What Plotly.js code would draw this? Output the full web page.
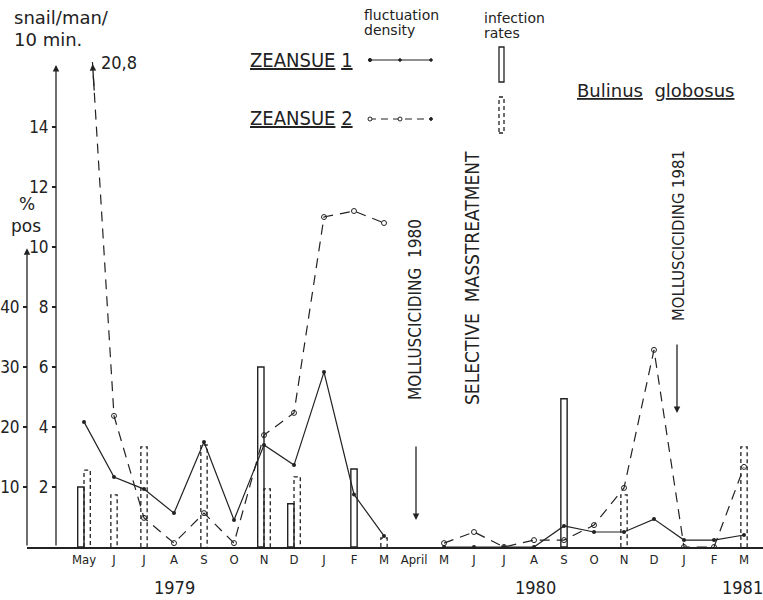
<!DOCTYPE html>
<html>
<head>
<meta charset="utf-8">
<script src="https://cdn.plot.ly/plotly-3.0.1.min.js"></script>
<style>html,body{margin:0;padding:0;background:#fff;}#chart{width:763px;height:600px;}</style>
</head>
<body>
<div id="chart"></div>
<script>
// ---- data ----
const months = ['May','J','J','A','S','O','N','D','J','F','M','April','M','J','J','A','S','O','N','D','J','F','M'];
const monthIndex = months.map((m, i) => i);
// fluctuation density, snail/man/10 min.
const zeansue1Density = [4.17, 2.33, 1.93, 1.13, 3.5, 0.9, 3.4, 2.73, 5.83, 1.75, 0.37, null, 0, 0, 0, 0, 0.7, 0.5, 0.5, 0.93, 0.23, 0.23, 0.4];
const zeansue2Density = [20.8, 4.37, 0.97, 0.13, 1.13, 0.13, 3.73, 4.47, 11.0, 11.2, 10.8, null, 0.13, 0.5, 0, 0.23, 0.23, 0.73, 1.97, 6.57, 0, 0, 2.67];
// infection rates, % pos
const zeansue1Infection = [10, null, null, null, null, null, 30, 7.2, null, 13, null, null, null, null, null, null, 24.7, null, null, null, null, null, null];
const zeansue2Infection = [12.8, 8.7, 16.7, null, 17, null, 9.7, 11.7, null, null, 1.5, null, null, null, null, null, null, null, 8.7, null, null, null, 16.7];
const snailTicks = [2, 4, 6, 8, 10, 12, 14];
const posTicks = [10, 20, 30, 40];
const years = ['1979', '1980', '1981'];

// ---- geometry ----
const W = 763, H = 600;
const M = {l: 27, r: 0, t: 62, b: 53};
const pw = W - M.l - M.r, ph = H - M.t - M.b;
const xRange = [-1.9, 22.633];
const yTop = ph / 30;            // snail axis top
const yRange = [0, yTop];
const y2Range = [0, yTop * 5];   // % pos axis (5 % per snail unit)
const px = x => (x - M.l) / pw;
const py = y => (H - M.b - y) / ph;
const ink = '#222';
const CF = 'DejaVu Sans Condensed, Liberation Sans Narrow, sans-serif';
const RF = 'DejaVu Sans, sans-serif';

// bar placement
const bw = 0.21;
const off1 = [], off2 = [];
months.forEach((m, i) => {
  const both = zeansue1Infection[i] != null && zeansue2Infection[i] != null;
  off1.push(both ? -bw : -bw / 2);
  off2.push(both ? 0 : -bw / 2);
});
// dashed bar outlines as paths
const dbx = [], dby = [];
zeansue2Infection.forEach((v, i) => {
  if (v == null) return;
  const x0 = i + off2[i], x1 = x0 + bw;
  dbx.push(x0, x0, x1, x1, null);
  dby.push(0, v, v, 0, null);
});

const traces = [
  {type: 'scatter', mode: 'lines+markers', x: monthIndex, y: zeansue1Density, yaxis: 'y',
   line: {color: ink, width: 1.2}, marker: {color: ink, size: 4}, connectgaps: false, hoverinfo: 'skip'},
  {type: 'scatter', mode: 'lines+markers', x: monthIndex, y: zeansue2Density, yaxis: 'y',
   line: {color: ink, width: 1.2, dash: '10px,7px'}, marker: {color: ink, size: 5, symbol: 'circle-open', line: {width: 1}},
   connectgaps: false, hoverinfo: 'skip'},
  {type: 'bar', x: monthIndex, y: zeansue1Infection, yaxis: 'y2', width: bw, offset: off1,
   marker: {color: 'rgba(0,0,0,0)', line: {color: ink, width: 1.4}}, hoverinfo: 'skip'},
  {type: 'scatter', mode: 'lines', x: dbx, y: dby, yaxis: 'y2',
   line: {color: ink, width: 1.3, dash: '4px,3px'}, hoverinfo: 'skip'}
];

// arrow at the top of the clipped ZEANSUE 2 line
const v0 = zeansue2Density[0], v1 = zeansue2Density[1];
const tipY = yTop - 0.07, tailY = yTop - 1.0;
const tipX = (v0 - tipY) / (v0 - v1), tailX = (v0 - tailY) / (v0 - v1);
const innerAxisX = (56 - 84) / 30;

const ann = [];
function T(text, x, y, size, opts) {
  ann.push(Object.assign({text: text, xref: 'paper', yref: 'paper', x: px(x), y: py(y), showarrow: false,
    xanchor: 'left', yanchor: 'middle', font: {family: CF, size: size, color: ink}}, opts || {}));
}
// axis arrows
ann.push({xref: 'x', yref: 'y', x: innerAxisX, y: 16.07, axref: 'x', ayref: 'y', ax: innerAxisX, ay: 0,
  text: '', showarrow: true, arrowhead: 2, arrowsize: 1, arrowwidth: 1.3, arrowcolor: ink, standoff: 0, startstandoff: 0});
ann.push({xref: 'x', yref: 'y2', x: xRange[0], y: 49.8, axref: 'x', ayref: 'y2', ax: xRange[0], ay: 0,
  text: '', showarrow: true, arrowhead: 2, arrowsize: 1, arrowwidth: 1.3, arrowcolor: ink, standoff: 0, startstandoff: 0});
ann.push({xref: 'x', yref: 'y', x: tipX, y: tipY, axref: 'x', ayref: 'y', ax: tailX, ay: tailY,
  text: '', showarrow: true, arrowhead: 2, arrowsize: 1, arrowwidth: 1.3, arrowcolor: ink, standoff: 0, startstandoff: 0});
// texts
T('snail/man/', 12, 17, 18, {font: {family: RF, size: 18, color: ink}});
T('10 min.', 12, 40, 18, {font: {family: RF, size: 18, color: ink}});
T('%', 27, 204, 17, {xanchor: 'center', font: {family: RF, size: 17, color: ink}});
T('pos', 26, 226, 17, {xanchor: 'center', font: {family: RF, size: 17, color: ink}});
T('20,8', 99, 62, 18);
T('fluctuation', 362, 15, 14, {font: {family: RF, size: 14, color: ink}});
T('density', 362, 30, 14, {font: {family: RF, size: 14, color: ink}});
T('infection', 482, 18, 14, {font: {family: RF, size: 14, color: ink}});
T('rates', 482, 33, 14, {font: {family: RF, size: 14, color: ink}});
T('<u>ZEANSUE</u> <u>1</u>', 248, 60, 20);
T('<u>ZEANSUE</u> <u>2</u>', 248, 118, 20);
T('<u>Bulinus</u>  g<u>lobosus</u>', 655, 90, 18, {xanchor: 'center', font: {family: RF, size: 18, color: ink}});
T('MOLLUSCICIDING  1980', 415, 310, 17, {xanchor: 'center', textangle: -90});
T('SELECTIVE  MASSTREATMENT', 472, 278, 19, {xanchor: 'center', textangle: -90});
T('MOLLUSCICIDING 1981', 679, 236, 16.5, {xanchor: 'center', textangle: -90});
T(years[0], 174, 587, 18, {xanchor: 'center'});
T(years[1], 535, 587, 18, {xanchor: 'center'});
T(years[2], 742, 587, 18, {xanchor: 'center'});
// treatment arrows
ann.push({xref: 'paper', yref: 'paper', x: px(416), y: py(520), ax: 0, ay: -75, text: '', showarrow: true,
  arrowhead: 2, arrowsize: 1, arrowwidth: 1.3, arrowcolor: ink, standoff: 0});
ann.push({xref: 'paper', yref: 'paper', x: px(677), y: py(413), ax: 0, ay: -70, text: '', showarrow: true,
  arrowhead: 2, arrowsize: 1, arrowwidth: 1.3, arrowcolor: ink, standoff: 0});

// legend samples
const shapes = [];
function L(x0, y0, x1, y1, dash) {
  shapes.push({type: 'line', xref: 'paper', yref: 'paper', x0: px(x0), y0: py(y0), x1: px(x1), y1: py(y1),
    line: {color: ink, width: 1.2, dash: dash || 'solid'}});
}
function C(x, y, r, filled) {
  shapes.push({type: 'circle', xref: 'paper', yref: 'paper', x0: px(x - r), y0: py(y + r), x1: px(x + r), y1: py(y - r),
    line: {color: ink, width: 1}, fillcolor: filled ? ink : '#fff'});
}
L(369, 60, 432, 60);
C(370, 60, 1.6, true); C(400, 60, 1.3, true); C(431, 60, 1.3, true);
L(369, 119, 432, 119, '7px,5px');
C(370, 119, 2, false); C(400, 119, 2, false); C(431, 119, 1.4, true);
shapes.push({type: 'rect', xref: 'paper', yref: 'paper', x0: px(499), x1: px(504), y0: py(82), y1: py(47),
  line: {color: ink, width: 1.3}});
shapes.push({type: 'rect', xref: 'paper', yref: 'paper', x0: px(499), x1: px(504), y0: py(133), y1: py(97),
  line: {color: ink, width: 1.3, dash: '4px,3px'}});

const layout = {
  width: W, height: H, margin: M, paper_bgcolor: '#fff', plot_bgcolor: 'rgba(0,0,0,0)',
  showlegend: false, barmode: 'overlay',
  xaxis: {range: xRange, tickvals: monthIndex, ticktext: months, showline: true, linecolor: ink, linewidth: 1.5,
    ticks: '', showgrid: false, zeroline: false, tickfont: {family: CF, size: 13, color: ink}, fixedrange: true},
  yaxis: {range: yRange, anchor: 'free', position: (56 - M.l) / pw, tickvals: snailTicks, ticks: 'outside', ticklen: 4,
    tickcolor: ink, tickwidth: 1.2, showline: false, showgrid: false, zeroline: false,
    tickfont: {family: CF, size: 17, color: ink}},
  yaxis2: {range: y2Range, overlaying: 'y', anchor: 'free', position: 0, side: 'left', tickvals: posTicks,
    ticks: 'outside', ticklen: 4, tickcolor: ink, tickwidth: 1.2, showline: false, showgrid: false, zeroline: false,
    tickfont: {family: CF, size: 17, color: ink}},
  annotations: ann, shapes: shapes
};
Plotly.newPlot('chart', traces, layout, {displayModeBar: false, staticPlot: true});
</script>
</body>
</html>
